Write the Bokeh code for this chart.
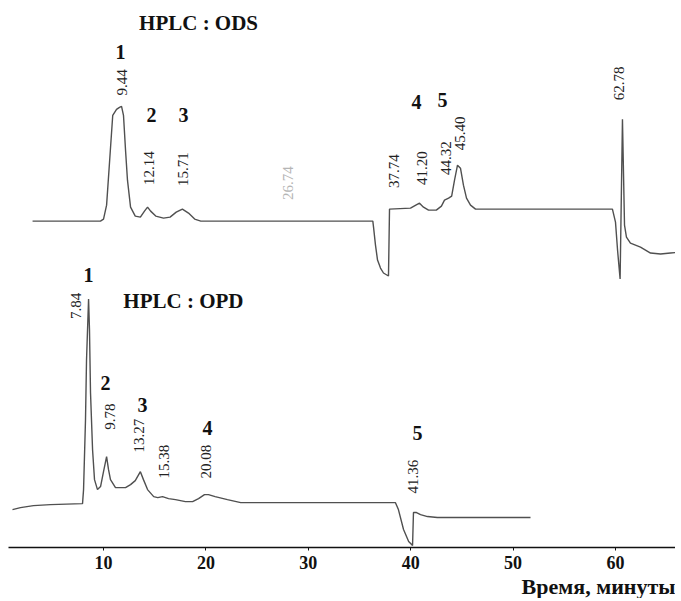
from bokeh.plotting import figure
from bokeh.models import Range1d, FixedTicker, Title
from bokeh.core.properties import value
from bokeh.embed import file_html
from bokeh.resources import INLINE
import numpy as np

# ---- data: chromatogram traces (time in minutes, detector signal in arbitrary units) ----
ods_time = [3.07, 9.7, 10.0, 10.3, 10.6, 10.9, 11.27, 11.56, 11.76, 11.95, 12.15, 12.34, 12.64,
            13.1, 13.6, 14.0, 14.3, 14.6, 15.1, 15.86, 16.5, 17.1, 17.7, 18.3, 18.9, 19.5,
            36.3, 36.37, 36.56, 36.76, 37.05, 37.34, 37.83, 37.93, 39.98, 40.5, 40.86, 41.25,
            41.74, 42.5, 43.0, 43.3, 43.7, 44.0, 44.28, 44.57, 44.86, 45.15, 45.45, 45.84,
            46.33, 46.8, 59.7, 60.0, 60.2, 60.45, 60.68, 60.88, 61.07, 61.46, 61.95, 62.44,
            62.93, 63.42, 64.4, 65.37, 66.35]
ods_signal = [0, 0, 2, 16, 61, 106, 112, 114, 115, 106, 71, 41, 14,
              5, 4, 10, 14, 10, 5, 3, 4, 9, 12, 8, 2, 0,
              0, -6, -24, -39, -47, -52, -55, 12, 13, 16, 18, 14,
              11, 11, 15, 21, 23, 25, 41, 56, 53, 36, 23, 16,
              12, 12, 12, -1, -29, -58, 102, -4, -16, -22, -24, -26,
              -29, -32, -33, -32, -31]

opd_time = [1.11, 1.89, 3.16, 4.82, 7.95, 8.05, 8.24, 8.34, 8.54, 8.63, 8.73, 8.93, 9.12,
            9.41, 9.71, 10.0, 10.3, 10.49, 10.68, 11.17, 12.15, 12.64, 13.1, 13.6, 13.9,
            14.3, 14.9, 15.3, 15.76, 16.35, 17.03, 18.0, 18.7, 19.28, 19.86, 20.25, 20.9,
            22.1, 23.4, 38.5, 38.8, 39.3, 39.8, 40.18, 40.27, 40.57, 40.96, 41.64, 42.6, 51.7]
opd_signal = [-7, -5, -3, -2, -1, 13, 83, 143, 204, 173, 110, 53, 23,
              13, 16, 31, 46, 33, 23, 15, 15, 18, 22, 31, 23,
              13, 6, 5, 6, 4, 3, 1, 1, 4, 8, 8, 6,
              3, 0, 0, -7, -27, -39, -43, -10, -10, -12, -14, -15, -15]

x_ticks = [10, 20, 30, 40, 50, 60]

# retention-time labels
ods_rt_labels = ["9.44", "12.14", "15.71", "26.74", "37.74", "41.20", "44.32", "45.40", "62.78"]
opd_rt_labels = ["7.84", "9.78", "13.27", "15.38", "20.08", "41.36"]
ods_peak_ids = ["1", "2", "3", "4", "5"]
opd_peak_ids = ["1", "2", "3", "4", "5"]

# ---- layout (positions of annotations, offsets) ----
ODS_OFFSET = 331
OPD_OFFSET = 49

ods_rt_x = [11.76, 14.4, 17.8, 27.97, 38.32, 41.15, 43.4, 44.86, 60.39]
ods_rt_y = [470, 384, 383, 369, 381, 384, 394, 419, 469]
ods_rt_col = ["#222222"] * 3 + ["#b5b5b5"] + ["#222222"] * 5
opd_rt_x = [7.27, 10.6, 13.5, 15.86, 19.96, 40.18]
opd_rt_y = [246, 135, 116, 90, 90, 75]
ods_id_x = [11.66, 14.69, 17.8, 40.57, 43.1]
ods_id_y = [500, 437, 437, 450, 452]
opd_id_x = [8.54, 10.2, 13.8, 20.16, 40.66]
opd_id_y = [277, 169, 147, 124, 119]

p = figure(width=675, height=598, output_backend="svg", toolbar_location=None,
           x_range=Range1d(0.72, 65.86), y_range=Range1d(4, 544),
           y_axis_location=None, min_border_left=8, min_border_right=0, min_border_top=8)
p.grid.visible = False
p.outline_line_color = None
p.background_fill_color = "white"

p.line(ods_time, (np.array(ods_signal) + ODS_OFFSET).tolist(), line_color="#505050", line_width=1.4)
p.line(opd_time, (np.array(opd_signal) + OPD_OFFSET).tolist(), line_color="#505050", line_width=1.4)

serif = value("Liberation Serif")
narrow = value("Liberation Sans Narrow")

p.text(x=ods_rt_x, y=ods_rt_y, text=ods_rt_labels, angle=np.pi / 2, text_align="center",
       text_baseline="middle", text_font=narrow, text_font_size="15px", text_color=ods_rt_col)
p.text(x=opd_rt_x, y=opd_rt_y, text=opd_rt_labels, angle=np.pi / 2, text_align="center",
       text_baseline="middle", text_font=narrow, text_font_size="15px", text_color="#222222")
p.text(x=ods_id_x, y=ods_id_y, text=ods_peak_ids, text_align="center", text_baseline="middle",
       text_font=serif, text_font_style="bold", text_font_size="20px", text_color="#111111")
p.text(x=opd_id_x, y=opd_id_y, text=opd_peak_ids, text_align="center", text_baseline="middle",
       text_font=serif, text_font_style="bold", text_font_size="20px", text_color="#111111")
p.text(x=[19.28, 17.8], y=[529, 251], text=["HPLC : ODS", "HPLC : OPD"], text_align="center",
       text_baseline="middle", text_font=serif, text_font_style="bold", text_font_size="21px",
       text_color="#111111")

ax = p.xaxis[0]
ax.ticker = FixedTicker(ticks=x_ticks)
ax.minor_tick_line_color = None
ax.major_tick_in = 0
ax.major_tick_out = 3
ax.axis_line_width = 1.6
ax.axis_line_color = "#111111"
ax.major_tick_line_color = "#111111"
ax.major_label_standoff = 5
ax.major_label_text_font = "Liberation Serif"
ax.major_label_text_font_style = "bold"
ax.major_label_text_font_size = "18px"
ax.major_label_text_color = "#111111"

p.add_layout(Title(text="Время, минуты", align="right", text_font="Liberation Serif",
                   text_font_style="bold", text_font_size="22px", text_color="#111111",
                   standoff=0), "below")

open("out.html", "w").write(file_html(p, INLINE))
